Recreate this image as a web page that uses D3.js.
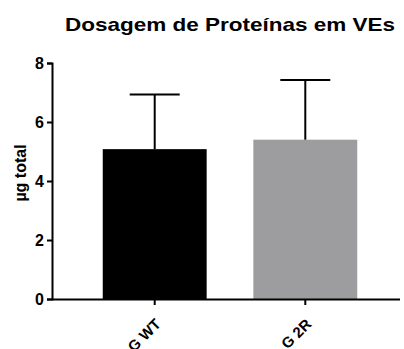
<!DOCTYPE html>
<html>
  <head>
    <script src="https://d3js.org/d3.v7.min.js"></script>
    <style>
      body { margin: 0; background: #fff; }
      text { font-family: "Liberation Sans", Arial, sans-serif; font-weight: bold; fill: #000; }
      .axis .domain, .axis .tick line { stroke: #000; stroke-width: 2px; }
      .axis .tick text { font-size: 16px; }
    </style>
  </head>
  <body>
    <svg width="404" height="349"></svg>
    <script>
      const groups = ["G WT", "G 2R"];
      const means = [5.08, 5.40];
      const errors = [1.85, 2.02];
      const barColors = ["#000000", "#9d9c9f"];
      const yTicks = [0, 2, 4, 6, 8];

      const svg = d3.select("svg");
      const margin = {top: 63, right: 4, bottom: 50, left: 52};
      const width = 404, height = 349;
      const innerWidth = width - margin.left - margin.right;
      const innerHeight = height - margin.top - margin.bottom;

      const g = svg.append("g")
        .attr("transform", `translate(${margin.left}, ${margin.top})`);

      const xScale = d3.scaleBand()
        .domain(groups)
        .range([0, 356])
        .paddingInner(0.31)
        .paddingOuter(0.337);

      const yScale = d3.scaleLinear()
        .domain([0, 8])
        .range([innerHeight, 0]);

      // bars
      g.selectAll(".bar")
        .data(groups)
        .enter().append("rect")
          .attr("class", "bar")
          .attr("x", d => xScale(d))
          .attr("y", (d, i) => yScale(means[i]))
          .attr("width", xScale.bandwidth())
          .attr("height", (d, i) => innerHeight - yScale(means[i]))
          .attr("fill", (d, i) => barColors[i]);

      // error bars (upper only)
      const capHalf = 25;
      const err = g.selectAll(".err")
        .data(groups)
        .enter().append("g")
          .attr("class", "err")
          .attr("transform", d => `translate(${xScale(d) + xScale.bandwidth() / 2}, 0)`);
      err.append("line")
        .attr("y1", (d, i) => yScale(means[i]))
        .attr("y2", (d, i) => yScale(means[i] + errors[i]))
        .attr("stroke", "#000")
        .attr("stroke-width", 2);
      err.append("line")
        .attr("x1", -capHalf)
        .attr("x2", capHalf)
        .attr("y1", (d, i) => yScale(means[i] + errors[i]))
        .attr("y2", (d, i) => yScale(means[i] + errors[i]))
        .attr("stroke", "#000")
        .attr("stroke-width", 2);

      // y axis
      g.append("g")
        .attr("class", "axis axis--y")
        .call(d3.axisLeft(yScale).tickValues(yTicks).tickSizeInner(5).tickSizeOuter(5).tickPadding(3));

      // x axis
      const xAxisG = g.append("g")
        .attr("class", "axis axis--x")
        .attr("transform", `translate(0, ${innerHeight})`)
        .call(d3.axisBottom(xScale).tickSizeInner(6).tickSizeOuter(0));
      xAxisG.select(".domain").attr("d", `M0,0.5H${innerWidth}`);
      xAxisG.selectAll(".tick text")
        .style("font-size", "15px")
        .attr("text-anchor", "end")
        .attr("dy", "0.35em")
        .attr("transform", "translate(-3, 16) rotate(-45)");

      // y label
      svg.append("text")
        .attr("transform", `translate(20, ${margin.top + innerHeight / 2 - 8}) rotate(-90)`)
        .attr("text-anchor", "middle")
        .attr("dy", "0.35em")
        .style("font-size", "16px")
        .text("µg total");

      // title
      svg.append("text")
        .attr("x", 230)
        .attr("y", 31)
        .attr("text-anchor", "middle")
        .attr("textLength", 330)
        .attr("lengthAdjust", "spacingAndGlyphs")
        .style("font-size", "19px")
        .text("Dosagem de Proteínas em VEs");
    </script>
  </body>
</html>
